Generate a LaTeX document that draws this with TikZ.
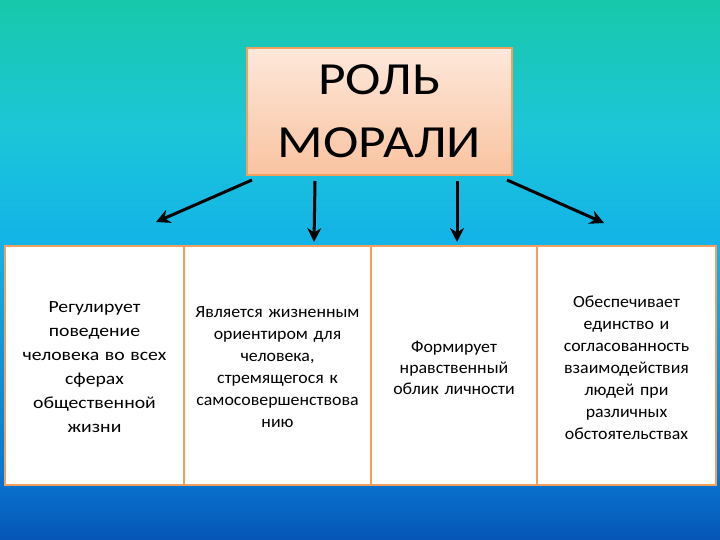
\documentclass[tikz,border=0pt]{standalone}
\usepackage{fontspec}
\setmainfont{Carlito}[FakeStretch=1.16]
\newfontfamily\narrowfont{Carlito}[FakeStretch=1.05]
\usetikzlibrary{arrows.meta}
\definecolor{bgA}{HTML}{18C8AA}
\definecolor{bgB}{HTML}{1CC6D8}
\definecolor{bgC}{HTML}{12B2E8}
\definecolor{bgD}{HTML}{0A78D2}
\definecolor{bgE}{HTML}{0556B6}
\definecolor{peachT}{HTML}{FDE8DA}
\definecolor{peachB}{HTML}{F9C3A0}
\definecolor{orangeline}{HTML}{F3A05E}
\tikzset{
  cellbox/.style={draw=orangeline, line width=2pt, fill=white},
  celltext/.style={align=center, text width=#1},
  conn/.style={line width=3pt, -{Stealth[length=14pt,width=14pt]}, black}
}
\begin{document}
\begin{tikzpicture}[x=1pt,y=-1pt]
\useasboundingbox (0,0) rectangle (720,540);
\shade[top color=bgA, bottom color=bgB] (0,0) rectangle (720,130);
\shade[top color=bgB, bottom color=bgC] (0,129.5) rectangle (720,250);
\shade[top color=bgC, bottom color=bgD] (0,249.5) rectangle (720,470);
\shade[top color=bgD, bottom color=bgE] (0,469.5) rectangle (720,540);
% title
\shade[top color=peachT, bottom color=peachB] (247,48) rectangle (512,175);
\draw[orangeline, line width=2pt] (247,48) rectangle (512,175);
\node[font=\fontsize{46}{63}\selectfont, align=center] (title) at (379.5,111) {РОЛЬ\\МОРАЛИ};
% table cells
\draw[cellbox] (5,246) rectangle (184,485);
\draw[cellbox] (184,246) rectangle (371,485);
\draw[cellbox] (371,246) rectangle (537,485);
\draw[cellbox] (537,246) rectangle (716,485);
\node[celltext=175pt, font=\fontsize{17}{24}\selectfont] (c1) at (94.5,367) {Регулирует\\поведение\\человека во всех\\сферах\\общественной\\жизни};
\node[celltext=185pt, font=\narrowfont\fontsize{17}{22}\selectfont] (c2) at (277.5,367) {Является жизненным\\ориентиром для\\человека,\\стремящегося к\\самосовершенствова\\нию};
\node[celltext=165pt, font=\narrowfont\fontsize{17}{21}\selectfont] (c3) at (454,368) {Формирует\\нравственный\\облик личности};
\node[celltext=178pt, font=\narrowfont\fontsize{17}{22}\selectfont] (c4) at (626.5,368) {Обеспечивает\\единство и\\согласованность\\взаимодействия\\людей при\\различных\\обстоятельствах};
% arrows
\coordinate (s1) at (252,180);
\coordinate (s2) at (315,181);
\coordinate (s3) at (457,181);
\coordinate (s4) at (507,180);
\coordinate (e1) at (156,222);
\coordinate (e2) at (314,242);
\coordinate (e3) at (457,242);
\coordinate (e4) at (604,223);
\draw[conn] (s1) -- (e1);
\draw[conn] (s2) -- (e2);
\draw[conn] (s3) -- (e3);
\draw[conn] (s4) -- (e4);
\end{tikzpicture}
\end{document}
